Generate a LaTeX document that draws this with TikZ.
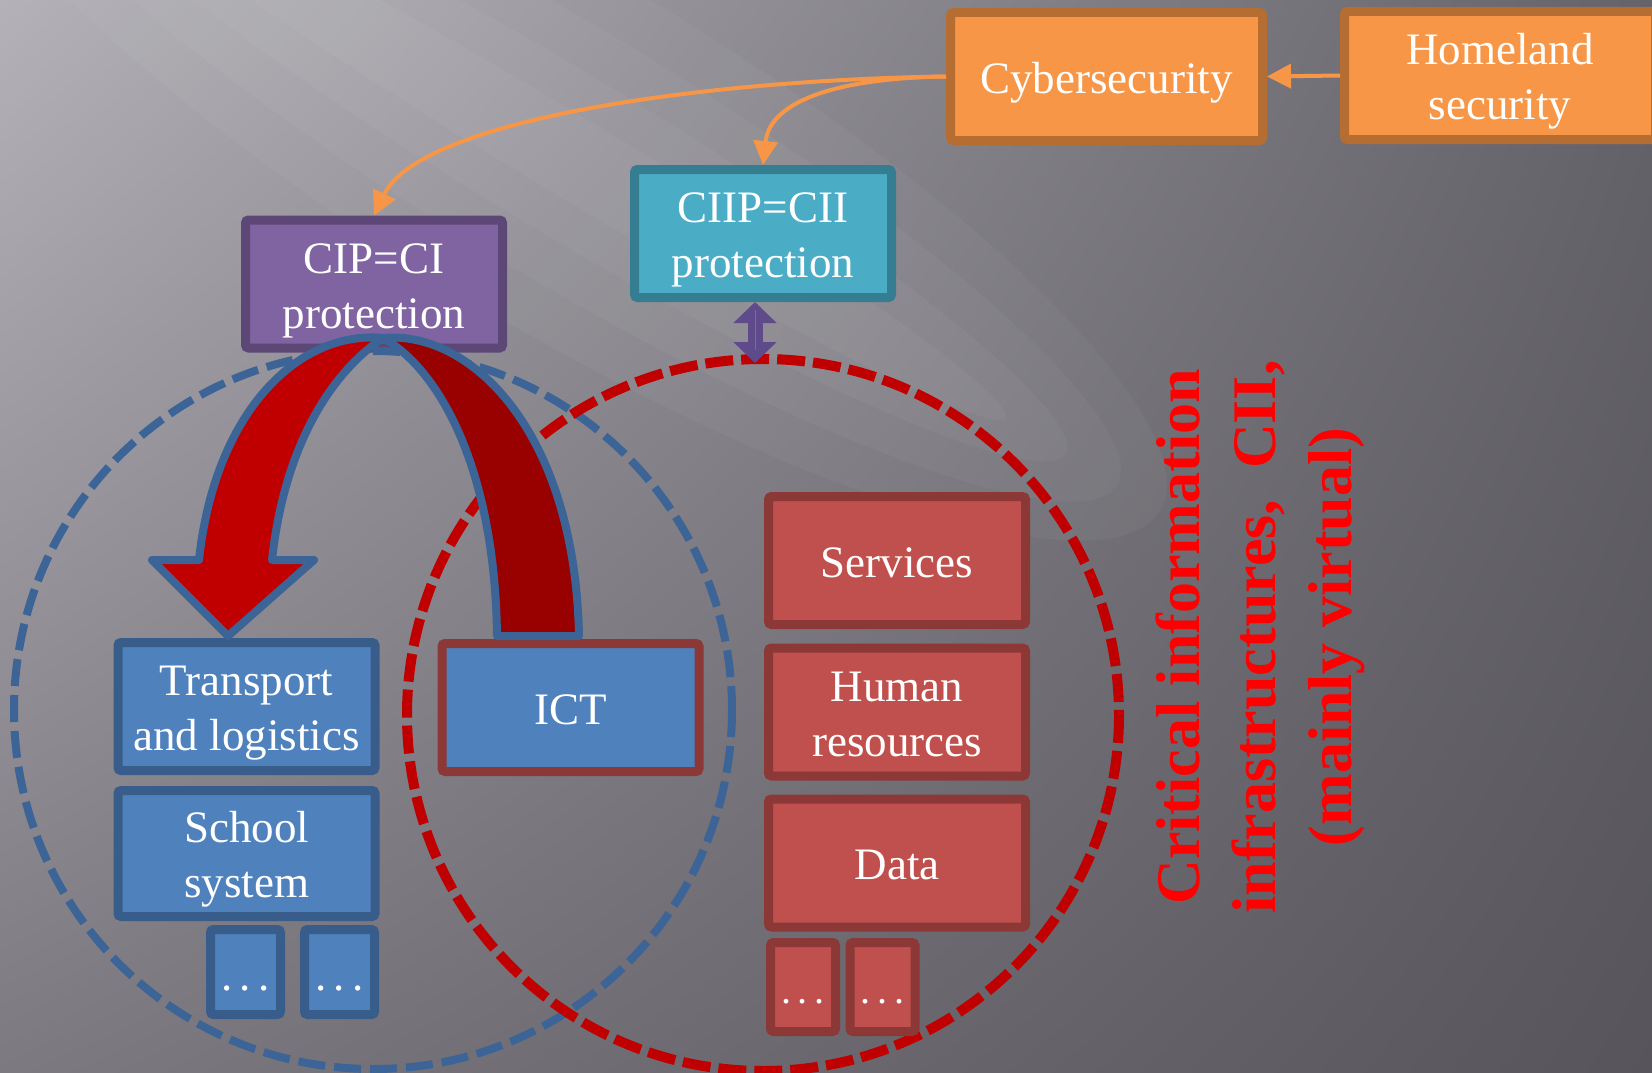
\documentclass[tikz,border=0pt]{standalone}
\usepackage{fontspec}
\setmainfont{Liberation Serif}
\usepackage{tikz}
\tikzset{>=latex}
\usetikzlibrary{arrows.meta, shadings}

\definecolor{bgtl}{HTML}{B4B2B8}
\definecolor{bgtr}{HTML}{65636A}
\definecolor{bgbl}{HTML}{7C7A80}
\definecolor{bgbr}{HTML}{57555B}
\definecolor{cyberfill}{HTML}{F79646}
\definecolor{cyberline}{HTML}{B66D31}
\definecolor{cipfill}{HTML}{8064A2}
\definecolor{cipline}{HTML}{5C4776}
\definecolor{ciipfill}{HTML}{4BACC6}
\definecolor{ciipline}{HTML}{357D91}
\definecolor{infrafill}{HTML}{4F81BD}
\definecolor{infraline}{HTML}{385D8A}
\definecolor{virtfill}{HTML}{C0504D}
\definecolor{virtline}{HTML}{8C3836}
\definecolor{ringblue}{HTML}{3C6496}
\definecolor{ringred}{HTML}{C00000}
\definecolor{flipdark}{HTML}{990000}
\definecolor{linkpurple}{HTML}{5F4B8B}
\definecolor{linkhi}{HTML}{7B69A6}

\tikzset{
  box/.style={draw, line width=9pt, rounded corners=3pt, text=white, align=center,
    inner sep=0pt, text height=44pt, text depth=11pt, font=\fontsize{45}{55}\selectfont},
  twoline/.style={text height=99pt, text depth=11pt},
  bigbox/.style={box, minimum width=257pt, minimum height=128pt},
  dotbox/.style={box, text height=36pt, text depth=0pt},
  orangelink/.style={draw=cyberfill, line width=4pt, -{Triangle[length=24pt,width=24pt]}},
  dblink/.style={draw=linkpurple, line width=15pt,
    {Triangle[length=21pt,width=42pt]}-{Triangle[length=21pt,width=42pt]}},
  bluering/.style={draw=ringblue, line width=8pt, dash pattern=on 27pt off 9pt},
  redring/.style={draw=ringred, line width=10pt, dash pattern=on 28pt off 8pt},
  flip/.style={draw=ringblue, line width=8pt, line join=round}
}

\begin{document}
\begin{tikzpicture}[x=1pt, y=-1pt]

  \useasboundingbox (0,0) rectangle (1652,1073);
  \shade[upper left=bgtl, upper right=bgtr, lower left=bgbl, lower right=bgbr] (0,0) rectangle (1652,1073);
  \foreach \h/\r in {40/520, 80/590, 125/650, 175/700}{
    \fill[white, opacity=0.035, rotate around={-31:(560,150)}] (560,150) ellipse[x radius=\r, y radius=\h];
  }

  % top row
  \node[box, fill=cyberfill, draw=cyberline, minimum width=312pt, minimum height=128pt] (cyber) at (1106.5,76.5) {Cybersecurity};
  \node[box, twoline, fill=cyberfill, draw=cyberline, minimum width=311pt, minimum height=128pt] (homeland) at (1500,75.5) {Homeland\\security};
  \node[bigbox, twoline, fill=ciipfill, draw=ciipline] (ciip) at (763,233.5) {CIIP=CII\\protection};
  \node[bigbox, twoline, fill=cipfill, draw=cipline] (cip) at (374,284) {CIP=CI\\protection};

  \draw[orangelink] (homeland.west) -- (cyber.east);
  \draw[orangelink] (cyber.west) .. controls (700,80) and (420,120) .. (cip.north);
  \draw[orangelink] (cyber.west) .. controls (840,78) and (770,100) .. (ciip.north);

  % the two rings
  \draw[bluering] (373,710) circle[radius=359];
  \draw[redring] (763,715) circle[radius=356];

  \node[bigbox, twoline, fill=infrafill, draw=infraline, minimum height=128pt] (transport) at (246.5,706.5) {Transport\\and logistics};
  \node[bigbox, twoline, fill=infrafill, draw=infraline, minimum height=126pt] (school) at (246.5,853.5) {School\\system};
  \node[dotbox, fill=infrafill, draw=infraline, minimum width=70pt, minimum height=85pt] (bdotsa) at (245.5,972) {.\,.\,.};
  \node[dotbox, fill=infrafill, draw=infraline, minimum width=70pt, minimum height=85pt] (bdotsb) at (339.5,972) {.\,.\,.};
  \node[bigbox, fill=infrafill, draw=virtline] (ict) at (570.5,707.5) {ICT};

  \node[bigbox, fill=virtfill, draw=virtline] (services) at (897,560.5) {Services};
  \node[bigbox, twoline, fill=virtfill, draw=virtline] (human) at (897,712) {Human\\resources};
  \node[bigbox, fill=virtfill, draw=virtline] (data) at (897,863) {Data};
  \node[dotbox, fill=virtfill, draw=virtline, minimum width=65pt, minimum height=89pt,
        font=\fontsize{40}{48}\selectfont, text height=33pt] (rdotsa) at (803,987) {.\,.\,.};
  \node[dotbox, fill=virtfill, draw=virtline, minimum width=65pt, minimum height=89pt,
        font=\fontsize{40}{48}\selectfont, text height=33pt] (rdotsb) at (882.5,987) {.\,.\,.};

  % turning arrow from ICT back to the physical side
  \filldraw[flip, fill=flipdark] (383,338) .. controls (470,330) and (575,430) .. (579,636)
      -- (497,636) .. controls (495,470) and (440,370) .. cycle;
  \filldraw[flip, fill=ringred] (383,338) .. controls (300,330) and (215,410) .. (199,560)
      -- (152,560) -- (228,636) -- (314,560) -- (272,560)
      .. controls (285,440) and (335,370) .. cycle;

  \coordinate (ringtop) at (755,363);
  \draw[dblink] (ciip.south -| ringtop) -- (ringtop);
  \draw[linkhi, line width=1pt] (755,310) -- (755,350);

  \node[rotate=90, text=red, align=center, font=\bfseries\fontsize{62}{76}\selectfont] (citext) at (1260,637)
    {Critical information\\infrastructures,\ \ CII,\\(mainly virtual)};

\end{tikzpicture}
\end{document}
